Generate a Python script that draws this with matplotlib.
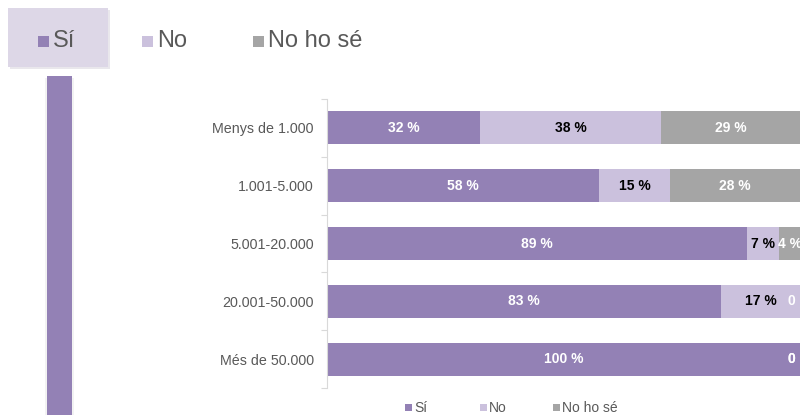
import numpy as np
import matplotlib.pyplot as plt
from matplotlib.patches import Rectangle

plt.rcParams['font.family'] = ['Liberation Sans', 'DejaVu Sans']

categories = ["Menys de 1.000", "1.001-5.000", "5.001-20.000", "20.001-50.000", "Més de 50.000"]
series = ["Sí", "No", "No ho sé"]
si = [32.4, 57.5, 88.9, 83.3, 100.0]
no = [38.2, 15.0, 6.7, 16.7, 0.0]
nohose = [29.4, 27.5, 4.4, 0.0, 0.0]

colors = ["#9381b5", "#cbc1dd", "#a5a5a5"]
txt_colors = ["white", "black", "white"]
grey = "#595959"

W, H = 805, 415
fig = plt.figure(figsize=(W / 100, H / 100), dpi=100)

# top-left decoration: highlighted box + vertical bar
fig.patches.append(Rectangle((10 / W, (H - 69) / H), 100 / W, 59 / H, transform=fig.transFigure,
                             facecolor="#d4d0da", edgecolor="none", alpha=0.5, zorder=0))
fig.patches.append(Rectangle((8 / W, (H - 67) / H), 100 / W, 59 / H, transform=fig.transFigure,
                             facecolor="#ddd7e7", edgecolor="none", zorder=1))
fig.patches.append(Rectangle((45 / W, 0), 29 / W, (H - 78) / H, transform=fig.transFigure,
                             facecolor="#f2f2f2", edgecolor="none", zorder=0))
fig.patches.append(Rectangle((47 / W, 0), 25 / W, (H - 76) / H, transform=fig.transFigure,
                             facecolor=colors[0], edgecolor="none", zorder=1))

# top legend (big)
top_x = [38, 142, 253]
for name, c, x in zip(series, colors, top_x):
    fig.patches.append(Rectangle((x / W, (H - 47) / H), 11 / W, 11 / H, transform=fig.transFigure,
                                 facecolor=c, edgecolor="none", zorder=2))
    fig.text((x + 15) / W, (H - 41) / H, name, fontsize=17, color=grey, va="center", ha="left", zorder=3)

# main chart
ax = fig.add_axes([327 / W, (H - 388) / H, (800 - 327) / W, (388 - 99) / H])
y = np.arange(len(categories))
left = np.zeros(len(categories))
for vals, c, tc in zip([si, no, nohose], colors, txt_colors):
    vals = np.array(vals)
    ax.barh(y, vals, left=left, height=0.57, color=c, edgecolor="none")
    for yi, l, v in zip(y, left, vals):
        col = tc if v > 0 else "white"
        ax.text(l + v / 2, yi, f"{int(v + 0.5)} %", ha="center", va="center",
                fontsize=10, fontweight="bold", color=col, clip_on=False)
    left = left + vals

ax.set_xlim(0, 100)
ax.set_ylim(4.5, -0.5)
ax.xaxis.set_visible(False)
for s in ["top", "right", "bottom"]:
    ax.spines[s].set_visible(False)
ax.spines["left"].set_color("#d9d9d9")
ax.set_yticks(np.arange(-0.5, 5, 1))
ax.set_yticklabels([])
ax.tick_params(axis="y", which="major", length=4, color="#d9d9d9")
ax.set_yticks(y, minor=True)
ax.set_yticklabels(categories, minor=True, fontsize=10.3, color=grey)
ax.tick_params(axis="y", which="minor", length=0, pad=9.5)

# bottom legend (small)
bot_x = [405, 480, 553]
for name, c, x in zip(series, colors, bot_x):
    fig.patches.append(Rectangle((x / W, (H - 411) / H), 7 / W, 7 / H, transform=fig.transFigure,
                                 facecolor=c, edgecolor="none"))
    fig.text((x + 9) / W, (H - 407.5) / H, name, fontsize=10, color=grey, va="center", ha="left")

fig.savefig("out.png", dpi=100)
